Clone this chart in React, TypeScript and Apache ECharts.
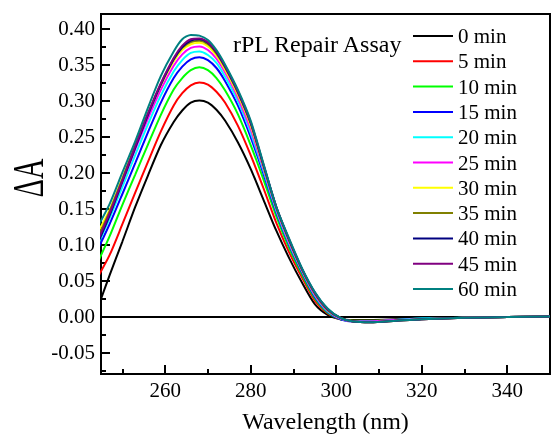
import React, { useEffect, useRef } from "react";
import * as echarts from "echarts";

const FONT = "Liberation Serif";

const wavelengths = [244, 247, 250, 253, 256, 259, 262, 264, 266, 268, 270, 272, 274, 277, 280, 283, 286, 289, 292, 295, 298, 301, 304, 308, 314, 320, 330, 340, 350];

const seriesNames = ["0 min", "5 min", "10 min", "15 min", "20 min", "25 min", "30 min", "35 min", "40 min", "45 min", "60 min"];
const seriesColors = ["#000000", "#ff0000", "#00ff00", "#0000ff", "#00ffff", "#ff00ff", "#ffff00", "#808000", "#000080", "#800080", "#008080"];

const min0 = [0.008, 0.057, 0.104, 0.152, 0.196, 0.238, 0.270, 0.286, 0.297, 0.300, 0.297, 0.287, 0.272, 0.242, 0.205, 0.162, 0.119, 0.081, 0.047, 0.017, 0.002, -0.004, -0.005, -0.005, -0.004, -0.003, -0.002, -0.001, 0.000];
const min5 = [0.052, 0.085, 0.128, 0.172, 0.215, 0.257, 0.293, 0.310, 0.321, 0.325, 0.322, 0.312, 0.297, 0.265, 0.224, 0.178, 0.130, 0.089, 0.054, 0.022, 0.004, -0.004, -0.006, -0.006, -0.005, -0.003, -0.002, -0.001, 0.000];
const min10 = [0.072, 0.111, 0.155, 0.197, 0.239, 0.280, 0.315, 0.331, 0.342, 0.346, 0.342, 0.331, 0.314, 0.281, 0.238, 0.190, 0.139, 0.095, 0.058, 0.025, 0.005, -0.004, -0.006, -0.006, -0.005, -0.003, -0.002, -0.001, 0.000];
const min15 = [0.090, 0.128, 0.170, 0.213, 0.256, 0.297, 0.331, 0.347, 0.357, 0.360, 0.356, 0.345, 0.327, 0.293, 0.249, 0.198, 0.144, 0.099, 0.061, 0.027, 0.006, -0.004, -0.007, -0.007, -0.005, -0.003, -0.002, -0.001, 0.000];
const min20 = [0.096, 0.136, 0.180, 0.224, 0.267, 0.307, 0.340, 0.356, 0.366, 0.368, 0.363, 0.352, 0.333, 0.299, 0.255, 0.202, 0.147, 0.101, 0.063, 0.029, 0.007, -0.003, -0.007, -0.007, -0.005, -0.003, -0.002, -0.001, 0.000];
const min25 = [0.102, 0.142, 0.187, 0.232, 0.275, 0.315, 0.348, 0.364, 0.373, 0.375, 0.370, 0.358, 0.339, 0.304, 0.260, 0.205, 0.149, 0.103, 0.064, 0.030, 0.008, -0.003, -0.007, -0.007, -0.005, -0.004, -0.002, -0.001, 0.000];
const min30 = [0.114, 0.148, 0.192, 0.237, 0.281, 0.321, 0.354, 0.370, 0.378, 0.380, 0.375, 0.362, 0.343, 0.308, 0.265, 0.208, 0.151, 0.105, 0.065, 0.032, 0.009, -0.002, -0.007, -0.008, -0.006, -0.004, -0.002, -0.001, 0.000];
const min35 = [0.106, 0.146, 0.191, 0.237, 0.282, 0.323, 0.357, 0.373, 0.381, 0.383, 0.378, 0.365, 0.346, 0.311, 0.268, 0.209, 0.151, 0.106, 0.065, 0.032, 0.009, -0.002, -0.007, -0.008, -0.006, -0.004, -0.002, -0.001, 0.000];
const min40 = [0.098, 0.140, 0.187, 0.234, 0.280, 0.322, 0.357, 0.374, 0.383, 0.385, 0.380, 0.367, 0.347, 0.312, 0.269, 0.210, 0.152, 0.106, 0.066, 0.033, 0.010, -0.002, -0.007, -0.008, -0.006, -0.004, -0.002, -0.001, 0.000];
const min45 = [0.102, 0.143, 0.189, 0.236, 0.282, 0.324, 0.359, 0.376, 0.385, 0.386, 0.381, 0.368, 0.348, 0.313, 0.270, 0.211, 0.152, 0.107, 0.066, 0.033, 0.010, -0.002, -0.007, -0.008, -0.006, -0.004, -0.002, -0.001, 0.000];
const min60 = [0.122, 0.156, 0.200, 0.243, 0.290, 0.334, 0.368, 0.385, 0.391, 0.390, 0.384, 0.370, 0.350, 0.315, 0.272, 0.212, 0.152, 0.108, 0.067, 0.034, 0.011, -0.002, -0.007, -0.008, -0.006, -0.004, -0.002, -0.001, 0.000];

const seriesValues = [min0, min5, min10, min15, min20, min25, min30, min35, min40, min45, min60];

const xMajorTicks = [260, 280, 300, 320, 340];
const xMinorTicks = [250, 270, 290, 310, 330, 350];
const yMajorTicks = [-0.05, 0, 0.05, 0.1, 0.15, 0.2, 0.25, 0.3, 0.35, 0.4];
const yMinorTicks = [-0.075, -0.025, 0.025, 0.075, 0.125, 0.175, 0.225, 0.275, 0.325, 0.375];

export default function App() {
  const ref = useRef<HTMLDivElement>(null);
  useEffect(() => {
    if (!ref.current) return;
    const chart = echarts.init(ref.current, null, { renderer: "svg" });
    const black = "#000";
    const series: any[] = seriesNames.map((name, i) => ({
      type: "line",
      name,
      data: wavelengths.map((w, j) => [w, seriesValues[i][j]]),
      showSymbol: false,
      symbol: "none",
      smooth: 0.25,
      clip: false,
      lineStyle: { width: 2, color: seriesColors[i] },
      itemStyle: { color: seriesColors[i] },
      z: 3 + i,
    }));
    series[0].markLine = {
      silent: true,
      symbol: "none",
      label: { show: false },
      lineStyle: { color: black, width: 2, type: "solid" },
      data: [{ yAxis: 0 }],
    };
    chart.setOption({
      animation: false,
      grid: {
        left: 101,
        right: 7,
        top: 14,
        bottom: 63,
        show: true,
        borderColor: black,
        borderWidth: 2,
        backgroundColor: "transparent",
        containLabel: false,
        outerBoundsMode: "none",
      },
      xAxis: [
        {
          type: "value",
          min: 245,
          max: 350,
          position: "bottom",
          axisLine: { show: true, onZero: false, lineStyle: { color: black, width: 2 } },
          axisTick: { show: true, inside: true, length: 9, customValues: xMajorTicks, lineStyle: { color: black, width: 2 } },
          axisLabel: { customValues: xMajorTicks, color: black, fontSize: 21, fontFamily: FONT, margin: 5 },
          splitLine: { show: false },
          name: "Wavelength (nm)",
          nameLocation: "middle",
          nameGap: 35,
          nameMoveOverlap: false,
          nameTextStyle: { color: black, fontSize: 24, fontFamily: FONT },
        },
        {
          type: "value",
          min: 245,
          max: 350,
          position: "bottom",
          axisLine: { show: false, onZero: false },
          axisTick: { show: true, inside: true, length: 5, customValues: xMinorTicks, lineStyle: { color: black, width: 2 } },
          axisLabel: { show: false },
          splitLine: { show: false },
        },
      ],
      yAxis: [
        {
          type: "value",
          min: -0.08,
          max: 0.42,
          position: "left",
          axisLine: { show: true, onZero: false, lineStyle: { color: black, width: 2 } },
          axisTick: { show: true, inside: true, length: 9, customValues: yMajorTicks, lineStyle: { color: black, width: 2 } },
          axisLabel: {
            customValues: yMajorTicks,
            color: black,
            fontSize: 21,
            fontFamily: FONT,
            margin: 6,
            formatter: (v: number) => v.toFixed(2),
          },
          splitLine: { show: false },
        },
        {
          type: "value",
          min: -0.08,
          max: 0.42,
          position: "left",
          axisLine: { show: false, onZero: false },
          axisTick: { show: true, inside: true, length: 5, customValues: yMinorTicks, lineStyle: { color: black, width: 2 } },
          axisLabel: { show: false },
          splitLine: { show: false },
        },
      ],
      legend: {
        orient: "vertical",
        left: 413,
        top: 25.5,
        padding: 0,
        icon: "rect",
        itemWidth: 40,
        itemHeight: 2,
        itemGap: 4.3,
        selectedMode: false,
        data: seriesNames,
        textStyle: { color: black, fontSize: 21, fontFamily: FONT, lineHeight: 21 },
      },
      graphic: [
        {
          type: "text",
          x: 233,
          y: 43.5,
          style: { text: "rPL Repair Assay", fontSize: 24, fontFamily: FONT, fill: black, align: "left", verticalAlign: "middle" },
        },
        {
          type: "text",
          x: 28,
          y: 178,
          rotation: Math.PI / 2,
          scaleX: 0.64,
          style: { text: "ΔA", fontSize: 44, fontFamily: FONT, fill: black, align: "center", verticalAlign: "middle" },
        },
      ],
      series,
    });
    return () => chart.dispose();
  }, []);
  return <div ref={ref} style={{ position: "fixed", left: 0, top: 0, width: 557, height: 437 }} />;
}
